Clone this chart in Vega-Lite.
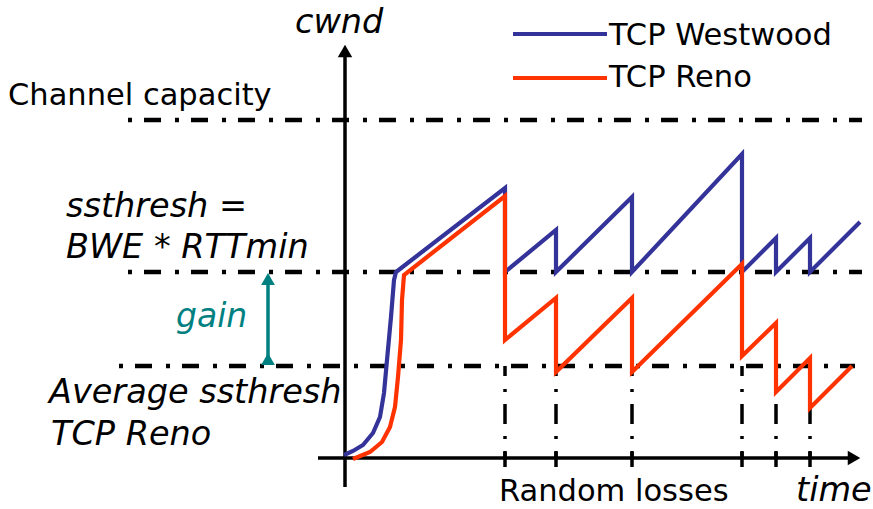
{
  "$schema": "https://vega.github.io/schema/vega-lite/v6.json",
  "width": 873,
  "height": 509,
  "autosize": {"type": "fit", "contains": "padding"},
  "padding": 0,
  "background": "white",
  "config": {"view": {"stroke": null}, "text": {"font": "DejaVu Sans"}},
  "datasets": {
    "thresh": [
      {"name": "Channel capacity", "t": -217, "t2": 517, "w": 338},
      {"name": "ssthresh", "t": -217, "t2": 517, "w": 186},
      {"name": "Average ssthresh", "t": -226, "t2": 510, "w": 92}
    ],
    "losses": [
      {"t": 160, "w": 92, "w2": 0},
      {"t": 211, "w": 92, "w2": 0},
      {"t": 287, "w": 92, "w2": 0},
      {"t": 397, "w": 92, "w2": 0},
      {"t": 431, "w": 92, "w2": 0},
      {"t": 465, "w": 92, "w2": 0}
    ],
    "axes": [
      {"t": 0, "t2": 0, "w": -29, "w2": 404},
      {"t": -27, "t2": 505, "w": 0, "w2": 0}
    ],
    "arrowheads": [
      {"dir": "up", "t": 0, "w": 407},
      {"dir": "right", "t": 509, "w": 0}
    ],
    "gainLine": [{"t": -77, "t2": -77, "w": 178, "w2": 100}],
    "gainHeads": [
      {"dir": "up", "t": -77, "w": 179},
      {"dir": "down", "t": -77, "w": 99}
    ],
    "cwnd": [
      {"series": "TCP Westwood", "i": 1, "t": -1, "w": 3},
      {"series": "TCP Westwood", "i": 2, "t": 8, "w": 7},
      {"series": "TCP Westwood", "i": 3, "t": 18, "w": 13},
      {"series": "TCP Westwood", "i": 4, "t": 28, "w": 25},
      {"series": "TCP Westwood", "i": 5, "t": 35, "w": 41},
      {"series": "TCP Westwood", "i": 6, "t": 39, "w": 65},
      {"series": "TCP Westwood", "i": 7, "t": 42, "w": 98},
      {"series": "TCP Westwood", "i": 8, "t": 46, "w": 141},
      {"series": "TCP Westwood", "i": 9, "t": 49, "w": 178},
      {"series": "TCP Westwood", "i": 10, "t": 51, "w": 186},
      {"series": "TCP Westwood", "i": 11, "t": 160, "w": 270},
      {"series": "TCP Westwood", "i": 12, "t": 160, "w": 186},
      {"series": "TCP Westwood", "i": 13, "t": 211, "w": 228},
      {"series": "TCP Westwood", "i": 14, "t": 211, "w": 186},
      {"series": "TCP Westwood", "i": 15, "t": 287, "w": 261},
      {"series": "TCP Westwood", "i": 16, "t": 287, "w": 186},
      {"series": "TCP Westwood", "i": 17, "t": 397, "w": 304},
      {"series": "TCP Westwood", "i": 18, "t": 397, "w": 186},
      {"series": "TCP Westwood", "i": 19, "t": 431, "w": 220},
      {"series": "TCP Westwood", "i": 20, "t": 431, "w": 186},
      {"series": "TCP Westwood", "i": 21, "t": 465, "w": 220},
      {"series": "TCP Westwood", "i": 22, "t": 465, "w": 186},
      {"series": "TCP Westwood", "i": 23, "t": 515, "w": 236},
      {"series": "TCP Reno", "i": 1, "t": 8, "w": -1},
      {"series": "TCP Reno", "i": 2, "t": 25, "w": 6},
      {"series": "TCP Reno", "i": 3, "t": 37, "w": 16},
      {"series": "TCP Reno", "i": 4, "t": 45, "w": 31},
      {"series": "TCP Reno", "i": 5, "t": 50, "w": 51},
      {"series": "TCP Reno", "i": 6, "t": 53, "w": 81},
      {"series": "TCP Reno", "i": 7, "t": 56, "w": 118},
      {"series": "TCP Reno", "i": 8, "t": 57, "w": 158},
      {"series": "TCP Reno", "i": 9, "t": 59, "w": 183},
      {"series": "TCP Reno", "i": 10, "t": 160, "w": 262},
      {"series": "TCP Reno", "i": 11, "t": 160, "w": 118},
      {"series": "TCP Reno", "i": 12, "t": 211, "w": 160},
      {"series": "TCP Reno", "i": 13, "t": 211, "w": 86},
      {"series": "TCP Reno", "i": 14, "t": 287, "w": 160},
      {"series": "TCP Reno", "i": 15, "t": 287, "w": 86},
      {"series": "TCP Reno", "i": 16, "t": 397, "w": 194},
      {"series": "TCP Reno", "i": 17, "t": 397, "w": 102},
      {"series": "TCP Reno", "i": 18, "t": 431, "w": 135},
      {"series": "TCP Reno", "i": 19, "t": 431, "w": 66},
      {"series": "TCP Reno", "i": 20, "t": 465, "w": 100},
      {"series": "TCP Reno", "i": 21, "t": 465, "w": 50},
      {"series": "TCP Reno", "i": 22, "t": 507, "w": 92}
    ],
    "legend": [
      {"series": "TCP Westwood", "t": 168, "t2": 262, "w": 424},
      {"series": "TCP Reno", "t": 168, "t2": 262, "w": 380}
    ],
    "labelsPlain": [
      {"label": "Channel capacity", "t": -337, "w": 353},
      {"label": "TCP Westwood", "t": 264, "w": 413},
      {"label": "TCP Reno", "t": 264, "w": 371},
      {"label": "Random losses", "t": 154, "w": -43}
    ],
    "labelsItalic": [
      {"label": "cwnd", "t": -50, "w": 425},
      {"label": "ssthresh =", "t": -279, "w": 241},
      {"label": "BWE * RTTmin", "t": -279, "w": 200},
      {"label": "Average ssthresh", "t": -296, "w": 55},
      {"label": "TCP Reno", "t": -294, "w": 13},
      {"label": "time", "t": 451, "w": -43}
    ],
    "labelGain": [{"label": "gain", "t": -169, "w": 131}]
  },
  "encoding": {
    "x": {"field": "t", "type": "quantitative", "scale": {"domain": [-345, 528], "nice": false, "zero": false}, "axis": null},
    "y": {"field": "w", "type": "quantitative", "scale": {"domain": [-51, 458], "nice": false, "zero": false}, "axis": null}
  },
  "layer": [
    {
      "data": {"name": "thresh"},
      "mark": {"type": "rule", "color": "black", "strokeWidth": 4.5, "strokeDash": [4, 12, 17, 14]},
      "encoding": {"x2": {"field": "t2"}}
    },
    {
      "data": {"name": "losses"},
      "mark": {"type": "rule", "color": "black", "strokeWidth": 3.5, "strokeDash": [10, 13, 3, 12, 20, 12, 3, 12]},
      "encoding": {"y2": {"field": "w2"}}
    },
    {
      "data": {"name": "losses"},
      "mark": {"type": "rule", "color": "black", "strokeWidth": 3.5},
      "encoding": {"y": {"datum": 6}, "y2": {"datum": -9}}
    },
    {
      "data": {"name": "axes"},
      "mark": {"type": "rule", "color": "black", "strokeWidth": 3.5},
      "encoding": {"x2": {"field": "t2"}, "y2": {"field": "w2"}}
    },
    {
      "data": {"name": "arrowheads"},
      "mark": {"type": "point", "filled": true, "color": "black", "size": 210, "opacity": 1},
      "encoding": {"shape": {"field": "dir", "type": "nominal", "scale": {"domain": ["up", "right"], "range": ["triangle-up", "triangle-right"]}, "legend": null}}
    },
    {
      "data": {"name": "gainLine"},
      "mark": {"type": "rule", "color": "#008080", "strokeWidth": 3.5},
      "encoding": {"y2": {"field": "w2"}}
    },
    {
      "data": {"name": "gainHeads"},
      "mark": {"type": "point", "filled": true, "color": "#008080", "size": 190, "opacity": 1},
      "encoding": {"shape": {"field": "dir", "type": "nominal", "scale": {"domain": ["up", "down"], "range": ["triangle-up", "triangle-down"]}, "legend": null}}
    },
    {
      "data": {"name": "cwnd"},
      "mark": {"type": "line", "strokeWidth": 4.2, "strokeJoin": "miter"},
      "encoding": {
        "order": {"field": "i", "type": "quantitative"},
        "color": {"field": "series", "type": "nominal", "scale": {"domain": ["TCP Westwood", "TCP Reno"], "range": ["#333399", "#ff3300"]}, "legend": null}
      }
    },
    {
      "data": {"name": "legend"},
      "mark": {"type": "rule", "strokeWidth": 4.2},
      "encoding": {
        "x2": {"field": "t2"},
        "color": {"field": "series", "type": "nominal", "scale": {"domain": ["TCP Westwood", "TCP Reno"], "range": ["#333399", "#ff3300"]}, "legend": null}
      }
    },
    {
      "data": {"name": "labelsPlain"},
      "mark": {"type": "text", "align": "left", "baseline": "alphabetic", "fontSize": 30.5, "color": "black"},
      "encoding": {"text": {"field": "label"}}
    },
    {
      "data": {"name": "labelsItalic"},
      "mark": {"type": "text", "align": "left", "baseline": "alphabetic", "fontSize": 33.5, "fontStyle": "italic", "color": "black"},
      "encoding": {"text": {"field": "label"}}
    },
    {
      "data": {"name": "labelGain"},
      "mark": {"type": "text", "align": "left", "baseline": "alphabetic", "fontSize": 33, "fontStyle": "italic", "color": "#008080"},
      "encoding": {"text": {"field": "label"}}
    }
  ]
}
